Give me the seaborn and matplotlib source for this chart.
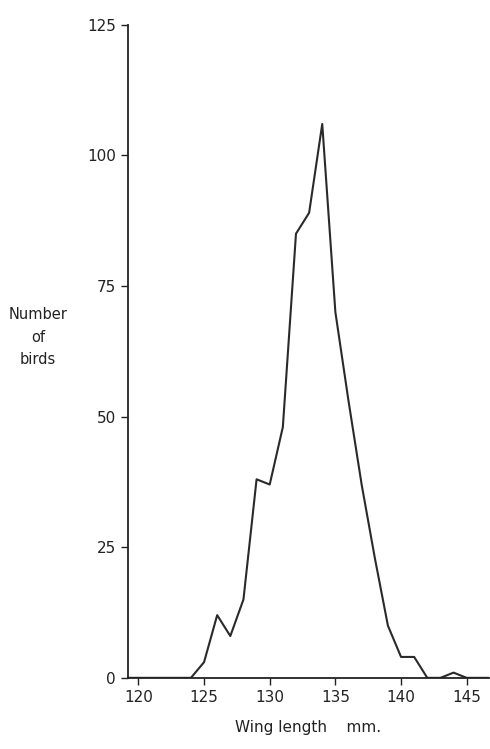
import numpy as np
import pandas as pd
import matplotlib
matplotlib.use("Agg")
import matplotlib.pyplot as plt
import seaborn as sns

# Wing length (mm) and number of birds
wing_length = [119, 120, 121, 122, 123, 124, 125, 126, 127, 128, 129, 130, 131, 132, 133,
               134, 135, 136, 137, 138, 139, 140, 141, 142, 143, 144, 145, 146, 147]
birds = [0, 0, 0, 0, 0, 0, 3, 12, 8, 15, 38, 37, 48, 85, 89,
         106, 70, 53, 37, 23, 10, 4, 4, 0, 0, 1, 0, 0, 0]

x_ticks = [120, 125, 130, 135, 140, 145]
y_ticks = [0, 25, 50, 75, 100, 125]

df = pd.DataFrame({"wing": wing_length, "birds": birds})

sns.set_style("white")
plt.rcParams["font.family"] = ["DejaVu Sans"]

fig = plt.figure(figsize=(4.9, 7.49), dpi=100)
ax = fig.add_axes([0.261, 0.095, 0.737, 0.872])

sns.lineplot(data=df, x="wing", y="birds", color="#2a2a2a", linewidth=1.5, ax=ax)

ax.set_xlim(119.2, 146.7)
ax.set_ylim(0, 125)
ax.set_xticks(x_ticks)
ax.set_yticks(y_ticks)
ax.tick_params(axis="both", direction="out", length=5, width=1, colors="#222222",
               labelsize=11, labelcolor="#222222", left=True, bottom=True)

sns.despine(ax=ax)
for s in ["left", "bottom"]:
    ax.spines[s].set_color("#222222")
    ax.spines[s].set_linewidth(1.3)

ax.set_xlabel("Wing length    mm.", fontsize=11, color="#222222", labelpad=11)
ax.set_ylabel("")
fig.text(0.078, 0.55, "Number\nof\nbirds", ha="center", va="center",
         fontsize=10.5, color="#222222", linespacing=1.6)

fig.savefig("out.png", dpi=100)
